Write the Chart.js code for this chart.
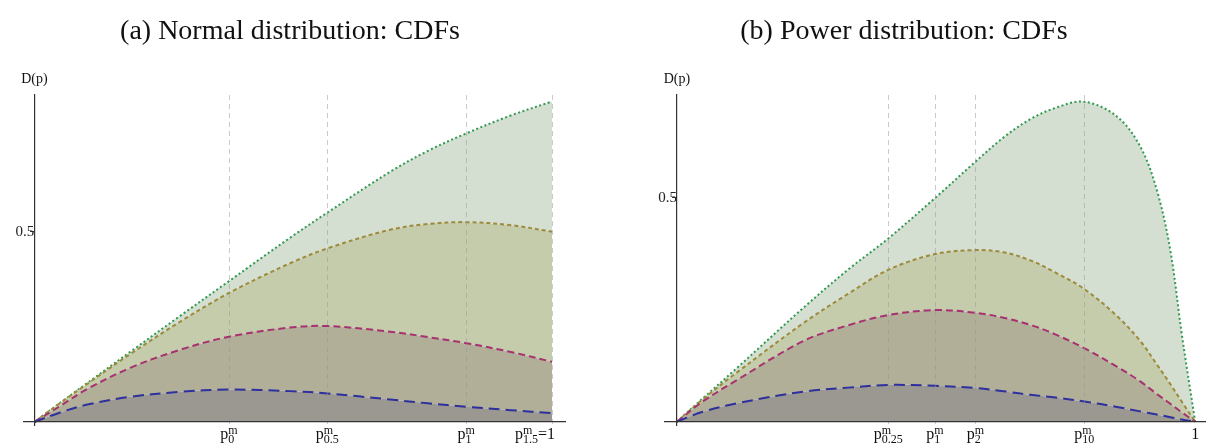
<!DOCTYPE html>
<html>
<head>
<meta charset="utf-8">
<script src="https://cdn.jsdelivr.net/npm/chart.js@4.4.0/dist/chart.umd.min.js"></script>
<style>
  body { margin: 0; background: #fff; width: 1220px; height: 448px; overflow: hidden; position: relative; }
  .title { position: absolute; top: 14px; font-family: 'Liberation Serif', serif; font-size: 28px; color: #111; white-space: nowrap; transform: translateX(-50%); z-index: 2; }
  canvas { position: absolute; top: 0; }
</style>
</head>
<body>
<div class="title" style="left:290px">(a) Normal distribution: CDFs</div>
<div class="title" style="left:904px">(b) Power distribution: CDFs</div>
<canvas id="chartA" width="610" height="448" style="left:0"></canvas>
<canvas id="chartB" width="610" height="448" style="left:610px"></canvas>
<script>
// panel (a) - normal distribution
const normalP = [0, 0.05, 0.1, 0.185, 0.28, 0.376, 0.494, 0.566, 0.687, 0.76, 0.834, 0.92, 1]
const normalBlue = [0, 0.025, 0.045, 0.066, 0.079, 0.085, 0.081, 0.075, 0.059, 0.049, 0.040, 0.031, 0.023]
const normalMagenta = [0, 0.042, 0.085, 0.142, 0.189, 0.224, 0.248, 0.252, 0.237, 0.223, 0.207, 0.184, 0.158]
const normalGold = [0, 0.050, 0.098, 0.178, 0.262, 0.339, 0.417, 0.456, 0.505, 0.520, 0.525, 0.517, 0.500]
const normalGreen = [0, 0.050, 0.100, 0.184, 0.277, 0.370, 0.484, 0.550, 0.657, 0.712, 0.758, 0.805, 0.842]

const normalTicks = [0.376, 0.566, 0.834, 1]
const normalTickBases = ['p', 'p', 'p', 'p']
const normalTickSubs = ['0', '0.5', '1', '1.5']
const normalTickTails = ['', '', '', '=1']

// panel (b) - power distribution
const powerP = [0, 0.05, 0.116, 0.244, 0.33, 0.408, 0.498, 0.576, 0.63, 0.682, 0.73, 0.786, 0.849, 0.894, 0.926, 0.952, 0.974, 1]
const powerBlue = [0, 0.022, 0.041, 0.067, 0.076, 0.082, 0.080, 0.075, 0.068, 0.060, 0.054, 0.045, 0.033, 0.023, 0.016, 0.010, 0.005, 0]
const powerMagenta = [0, 0.045, 0.093, 0.180, 0.215, 0.238, 0.249, 0.243, 0.232, 0.216, 0.195, 0.164, 0.123, 0.090, 0.062, 0.040, 0.021, 0]
const powerGold = [0, 0.050, 0.110, 0.220, 0.285, 0.339, 0.374, 0.383, 0.378, 0.360, 0.333, 0.296, 0.236, 0.180, 0.128, 0.084, 0.045, 0]
const powerGreen = [0, 0.052, 0.120, 0.254, 0.339, 0.409, 0.499, 0.580, 0.634, 0.675, 0.700, 0.714, 0.681, 0.614, 0.517, 0.383, 0.197, 0]

const powerTicks = [0.408, 0.498, 0.576, 0.786, 1]
const powerTickBases = ['p', 'p', 'p', 'p', '1']
const powerTickSubs = ['0.25', '1', '2', '10', '']
const powerTickTails = ['', '', '', '', '']

const yTicks = [0.5]

// bottom to top: blue, magenta, gold, green
const styles = [
    { line: '#2d309d', fill: 'rgb(155,152,146)', dash: [11, 6] },
    { line: '#a8316f', fill: 'rgb(177,175,151)', dash: [7, 4] },
    { line: '#9d8a3b', fill: 'rgb(196,204,172)', dash: [4, 3] },
    { line: '#2f9a50', fill: 'rgb(212,223,209)', dash: [2, 2.5] }
]

function toPoints(xs, ys) {
    return xs.map((x, i) => ({ x: x, y: ys[i] }))
}

// p^m_sub labels under the axis and D(p) on top of the y axis
const axisText = {
    id: 'axisText',
    afterDraw(chart, args, o) {
        const ctx = chart.ctx
        const xs = chart.scales.x
        const ys = chart.scales.y
        const x0 = xs.getPixelForValue(0)
        const y0 = ys.getPixelForValue(0)
        const big = '16px "Liberation Serif"'
        const small = '12px "Liberation Serif"'
        ctx.save()
        ctx.fillStyle = '#111'
        ctx.font = '14px "Liberation Serif"'
        ctx.textAlign = 'center'
        ctx.textBaseline = 'middle'
        ctx.fillText('D(p)', x0, chart.chartArea.top - 16)
        ctx.textAlign = 'left'
        ctx.textBaseline = 'alphabetic'
        for (let i = 0; i < o.values.length; i++) {
            ctx.font = big
            const wb = ctx.measureText(o.bases[i]).width
            const wt = ctx.measureText(o.tails[i]).width
            ctx.font = small
            let ws = 0
            if (o.bases[i] === 'p') {
                ws = Math.max(ctx.measureText('m').width, ctx.measureText(o.subs[i]).width)
            }
            const total = wb + ws + wt
            const px = xs.getPixelForValue(o.values[i])
            const left = o.tails[i] ? px - total + 3 : px - total / 2
            const base = y0 + 17
            ctx.font = big
            ctx.fillText(o.bases[i], left, base)
            if (ws) {
                ctx.font = small
                ctx.fillText('m', left + wb, base - 5)
                ctx.fillText(o.subs[i], left + wb, base + 4)
            }
            if (wt) {
                ctx.font = big
                ctx.fillText(o.tails[i], left + wb + ws, base)
            }
        }
        ctx.restore()
    }
}

function makeChart(id, xs, series, ticks, xRange, yRange, pad, hideLastGrid) {
    const datasets = series.map((ys, i) => ({
        data: toPoints(xs, ys),
        borderColor: styles[i].line,
        backgroundColor: styles[i].fill,
        borderDash: styles[i].dash,
        borderWidth: 2,
        pointRadius: 0,
        tension: 0.35,
        fill: i === 0 ? 'origin' : '-1'
    }))

    const cfg = {
        type: 'line',
        data: { datasets: datasets },
        plugins: [axisText],
        options: {
            responsive: false,
            animation: false,
            layout: { padding: pad },
            plugins: {
                legend: { display: false },
                tooltip: { enabled: false },
                axisText: ticks
            },
            scales: {
                x: {
                    type: 'linear',
                    min: xRange[0],
                    max: xRange[1],
                    position: { y: 0 },
                    afterBuildTicks: s => { s.ticks = ticks.values.map(v => ({ value: v })) },
                    ticks: { display: false },
                    grid: {
                        z: 1,
                        drawTicks: false,
                        lineWidth: 1,
                        color: c => (hideLastGrid && c.tick && c.tick.value === 1) ? 'rgba(0,0,0,0)' : 'rgba(150,150,150,0.5)'
                    },
                    border: { display: true, color: '#333', width: 1.2, dash: [5, 4], z: 2 }
                },
                y: {
                    type: 'linear',
                    min: yRange[0],
                    max: yRange[1],
                    position: { x: 0 },
                    afterBuildTicks: s => { s.ticks = yTicks.map(v => ({ value: v })) },
                    ticks: {
                        color: '#222',
                        padding: 3,
                        font: { family: 'Liberation Serif', size: 15 }
                    },
                    grid: { drawOnChartArea: false, drawTicks: true, tickLength: 4, tickColor: '#333' },
                    border: { display: true, color: '#333', width: 1.2, z: 2 }
                }
            }
        }
    }

    const ctx = document.getElementById(id).getContext('2d')
    // eslint-disable-next-line no-undef
    return new Chart(ctx, cfg)
}

makeChart('chartA', normalP,
    [normalBlue, normalMagenta, normalGold, normalGreen],
    { values: normalTicks, bases: normalTickBases, subs: normalTickSubs, tails: normalTickTails },
    [-0.02, 1.025], [-0.008, 0.859],
    { top: 95, bottom: 23, left: 24, right: 45 }, false)

makeChart('chartB', powerP,
    [powerBlue, powerMagenta, powerGold, powerGreen],
    { values: powerTicks, bases: powerTickBases, subs: powerTickSubs, tails: powerTickTails },
    [-0.023, 1.019], [-0.0074, 0.729],
    { top: 95, bottom: 23, left: 55, right: 15 }, true)
</script>
</body>
</html>
